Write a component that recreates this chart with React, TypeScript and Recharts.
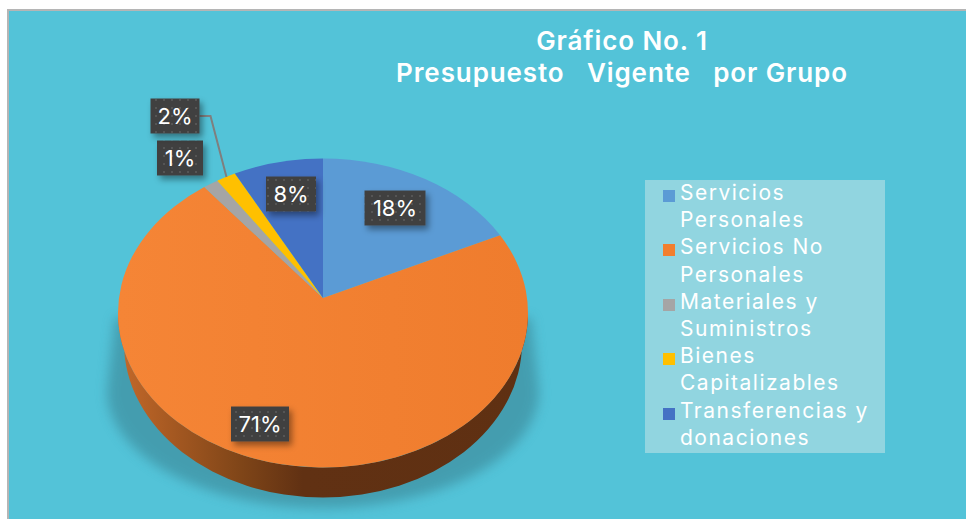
import React from "react";
import { PieChart, Pie, Legend } from "recharts";

const categories = ["Servicios Personales", "Servicios No Personales", "Materiales y Suministros", "Bienes Capitalizables", "Transferencias y donaciones"];
const shares = [18, 71.2, 1.3, 1.7, 7.8];
const colors = ["#5B9BD5", "#F27F2E", "#A5A5A5", "#FFC000", "#4472C4"];
const legendLines = [["Servicios", "Personales"], ["Servicios No", "Personales"], ["Materiales y", "Suministros"], ["Bienes", "Capitalizables"], ["Transferencias y", "donaciones"]];
const titleLines = ["Gráfico No. 1", "Presupuesto\u00a0\u00a0 Vigente\u00a0\u00a0 por Grupo"];

// chart geometry: perspective ellipse of the tilted pie
const W = 966, H = 519;
const CX = 323, APEX_Y = 298, RX = 205, RY = 154.5, ELLIPSE_DY = 15, DEPTH = 30;
const labelOffsets = [[72, -90], [-63, 126], [-143, -140], [-148, -182], [-32, -104]];
const labelSizes = [[61, 35], [58, 35], [46, 35], [49, 35], [50, 35]];
const FONT = "Inter, sans-serif";

const data = categories.map((name, i) => ({ name, value: shares[i], fill: colors[i] }));

function rim(deg: number, cx: number, cy: number) {
  const a = ((90 - deg) * Math.PI) / 180;
  const dx = RX * Math.sin(a), dy = -RY * Math.cos(a);
  const A = (dx * dx) / (RX * RX) + (dy * dy) / (RY * RY);
  const B = (2 * dy * -ELLIPSE_DY) / (RY * RY);
  const C = (ELLIPSE_DY * ELLIPSE_DY) / (RY * RY) - 1;
  const t = (-B + Math.sqrt(B * B - 4 * A * C)) / (2 * A);
  return [cx + dx * t, cy + dy * t];
}

function EllipseSector(props: any) {
  const { cx, cy, startAngle, endAngle, fill, index } = props;
  const [x0, y0] = rim(startAngle, cx, cy);
  const [x1, y1] = rim(endAngle, cx, cy);
  const large = Math.abs(endAngle - startAngle) > 180 ? 1 : 0;
  const midY = cy + ELLIPSE_DY;
  const face = `M${cx},${cy}L${x0},${y0}A${RX},${RY} 0 ${large} 1 ${x1},${y1}Z`;
  const wall = `M${cx - RX},${midY}A${RX},${RY} 0 0 0 ${cx + RX},${midY}L${cx + RX - 6},${midY + DEPTH}A${RX - 6},${RY} 0 0 1 ${cx - RX + 6},${midY + DEPTH}Z`;
  const isMain = index === 1;
  return (
    <g>
      {isMain && (
        <path
          d={`M${cx - 208},${midY + 5}L${cx - 216},${midY + 78}A216,117 0 0 0 ${cx + 216},${midY + 78}L${cx + 208},${midY + 5}Z`}
          fill="#3A8595"
          opacity={0.6}
          filter="url(#softShadow)"
        />
      )}
      {isMain && <path d={wall} fill="url(#wallGrad)" />}
      <path d={face} fill={isMain ? "url(#mainGrad)" : fill} />
    </g>
  );
}

function DataLabel(props: any) {
  const { index, cx, cy, value } = props;
  const [ox, oy] = labelOffsets[index];
  const [w, h] = labelSizes[index];
  const x = cx + ox, y = cy + oy;
  return (
    <g>
      {index === 3 && (
        <polyline points={`${x + w / 2},${y} ${x + w / 2 + 11},${y} ${x + w / 2 + 27},${y + 61}`} fill="none" stroke="#7F7F7F" strokeWidth={2} />
      )}
      <rect x={x - w / 2} y={y - h / 2} width={w} height={h} fill="url(#dots)" filter="url(#labelShadow)" />
      <text x={x} y={y + 8} textAnchor="middle" fontFamily={FONT} fontSize={22} fill="#FFFFFF">{Math.round(value)}%</text>
    </g>
  );
}

function LegendBox() {
  return (
    <div style={{ width: 240, height: 273, background: "#91D5E0", boxSizing: "border-box", padding: "0 0 0 18px", fontFamily: FONT, fontSize: 21, lineHeight: "27.2px", color: "#FFFFFF", letterSpacing: 1.5 }}>
      {categories.map((name, i) => (
        <div key={name} style={{ position: "relative", paddingLeft: 17, top: -1 }}>
          <span style={{ position: "absolute", left: 0, top: 11, width: 12, height: 12, background: colors[i] }} />
          {legendLines[i].map((l) => (<div key={l}>{l}</div>))}
        </div>
      ))}
    </div>
  );
}

export default function App() {
  return (
    <div style={{ position: "absolute", left: 0, top: 0, width: W, height: H, background: "#FFFFFF", overflow: "hidden" }}>
      <div style={{ position: "absolute", left: 7, top: 9, width: W, height: H, background: "#53C3D8", borderLeft: "2px solid #B5B5B5", borderTop: "2px solid #B5B5B5", boxSizing: "border-box" }} />
      <div style={{ position: "absolute", left: 322, width: 600, top: 25, textAlign: "center", fontFamily: FONT, fontWeight: 600, fontSize: 26, lineHeight: "32px", color: "#FFFFFF", letterSpacing: 0.9 }}>
        {titleLines.map((l) => (<div key={l}>{l}</div>))}
      </div>
      <div style={{ position: "absolute", left: 0, top: 0 }}>
        <PieChart width={W} height={H} margin={{ top: 0, right: 0, bottom: 0, left: 0 }}>
          <defs>
            <linearGradient id="wallGrad" x1="0" y1="0" x2="1" y2="0">
              <stop offset="0" stopColor="#C4692A" />
              <stop offset="0.12" stopColor="#A85A22" />
              <stop offset="0.3" stopColor="#7F4518" />
              <stop offset="0.45" stopColor="#613113" />
              <stop offset="1" stopColor="#5F3012" />
            </linearGradient>
            <linearGradient id="mainGrad" x1="0" y1="0" x2="1" y2="0">
              <stop offset="0" stopColor="#F58536" />
              <stop offset="1" stopColor="#EF7C2D" />
            </linearGradient>
            <pattern id="dots" width="8" height="8" patternUnits="userSpaceOnUse">
              <rect width="8" height="8" fill="#404040" />
              <rect x="3" y="3" width="2" height="2" fill="#545454" />
            </pattern>
            <filter id="softShadow" x="-20%" y="-20%" width="140%" height="140%">
              <feGaussianBlur stdDeviation="6" />
            </filter>
            <filter id="labelShadow" x="-30%" y="-30%" width="170%" height="180%">
              <feDropShadow dx="3" dy="4" stdDeviation="3" floodColor="#000000" floodOpacity="0.4" />
            </filter>
          </defs>
          <Legend
            content={<LegendBox />}
            layout="vertical"
            wrapperStyle={{ position: "absolute", left: 645, top: 180, width: 240, height: 273 }}
          />
          <Pie
            data={data}
            dataKey="value"
            nameKey="name"
            cx={CX}
            cy={APEX_Y}
            outerRadius={RX}
            startAngle={90}
            endAngle={-270}
            stroke="none"
            labelLine={false}
            label={DataLabel}
            shape={EllipseSector}
            isAnimationActive={false}
          />
        </PieChart>
      </div>
    </div>
  );
}
